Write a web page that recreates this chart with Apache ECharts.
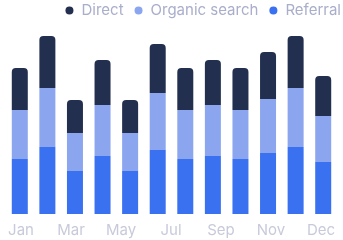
<!DOCTYPE html>
<html>
<head>
<meta charset="utf-8">
<script src="https://cdn.jsdelivr.net/npm/echarts@6/dist/echarts.min.js"></script>
<style>
html,body{margin:0;padding:0;background:#fff;}
#chart{width:343px;height:240px;}
</style>
</head>
<body>
<div id="chart"></div>
<script>
const months = ['Jan','Feb','Mar','Apr','May','Jun','Jul','Aug','Sep','Oct','Nov','Dec'];
const tickLabels = ['Jan','Mar','May','Jul','Sep','Nov','Dec'];
const referral = [55, 67, 43, 58, 43, 64, 55, 58, 55, 61, 67, 52];
const organic  = [49, 59, 38, 51, 38, 57, 49, 51, 49, 54, 59, 46];
const direct   = [42, 52, 33, 45, 33, 49, 42, 45, 42, 47, 52, 40];
const seriesNames = ['Direct','Organic search','Referral'];
const colors = {Direct:'#232f4e','Organic search':'#8ba6ee',Referral:'#3a71f0'};

const chart = echarts.init(document.getElementById('chart'));
chart.setOption({
  animation:false,
  textStyle:{fontFamily:'Inter'},
  legend:{
    data:seriesNames,
    top:3,
    right:2,
    padding:0,
    icon:'circle',
    itemWidth:14,
    itemHeight:8,
    itemGap:11,
    textStyle:{color:'#a9aeca',fontSize:15,fontFamily:'Inter'}
  },
  grid:[
    {left:6,right:6,top:14,bottom:26,containLabel:false},
    {left:21,right:22,top:14,bottom:26,containLabel:false}
  ],
  xAxis:[
    {
      type:'category',
      gridIndex:0,
      data:months,
      axisLine:{show:false},
      axisTick:{show:false},
      axisLabel:{show:false}
    },
    {
      type:'category',
      gridIndex:1,
      data:tickLabels,
      boundaryGap:false,
      axisLine:{show:false},
      axisTick:{show:false},
      axisLabel:{color:'#c8cadb',fontSize:15,margin:9,interval:0,hideOverlap:false}
    }
  ],
  yAxis:[
    {type:'value',gridIndex:0,min:0,max:200,show:false,splitLine:{show:false}},
    {type:'value',gridIndex:1,min:0,max:200,show:false,splitLine:{show:false}}
  ],
  series:[
    {name:'Referral',type:'bar',stack:'t',data:referral,barWidth:16,
     itemStyle:{color:colors.Referral}},
    {name:'Organic search',type:'bar',stack:'t',data:organic,barWidth:16,
     itemStyle:{color:colors['Organic search']}},
    {name:'Direct',type:'bar',stack:'t',data:direct,barWidth:16,
     itemStyle:{color:colors.Direct,borderRadius:[4,4,0,0]}}
  ]
});
</script>
</body>
</html>
